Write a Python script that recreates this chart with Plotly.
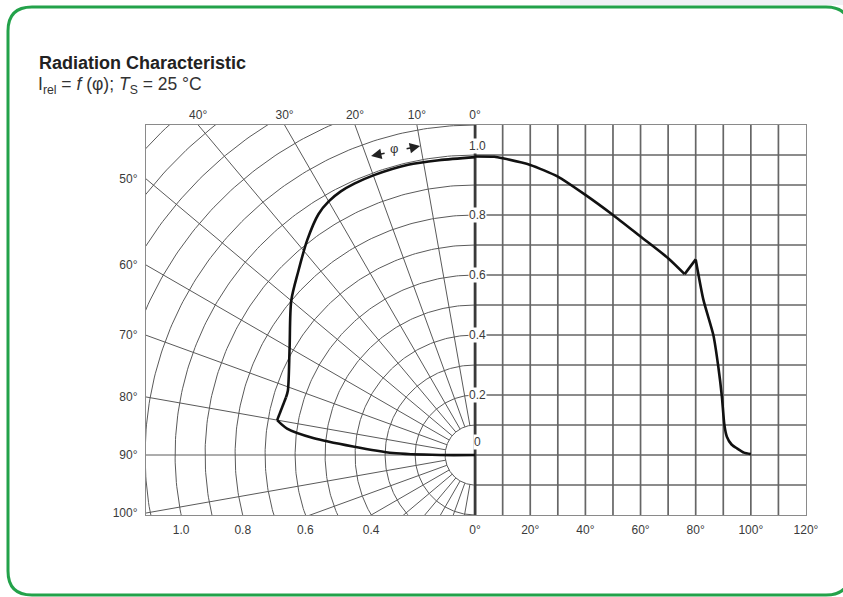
import numpy as np
import plotly.graph_objects as go

# ---------------- data ----------------
# left half: polar representation (angle phi in degrees, relative intensity)
polar_angle_deg = [0, 7, 13, 20, 24, 27, 30, 33, 38, 44, 50, 60, 71, 73, 80, 82, 84, 86, 88.6, 90, 90]
polar_rel = [0.993, 0.99, 0.993, 0.992, 0.99, 0.986, 0.976, 0.958, 0.909, 0.849, 0.80, 0.714,
             0.66, 0.659, 0.67, 0.633, 0.543, 0.408, 0.274, 0.117, 0.0]

# right half: cartesian representation (angle in degrees, relative intensity)
cart_angle_deg = [0, 7, 10, 20, 30, 40, 50, 60, 70, 76, 80, 82.8, 86.4, 88.2, 89.5,
                  90.4, 91.3, 93, 95, 97.5, 100]
cart_rel = [0.995, 0.994, 0.989, 0.967, 0.928, 0.867, 0.80, 0.728, 0.656, 0.603, 0.652,
            0.517, 0.40, 0.294, 0.194, 0.1, 0.061, 0.035, 0.022, 0.008, 0.003]

# tick labels
top_angles = [40, 30, 20, 10, 0]
left_angles = [50, 60, 70, 80, 90, 100]
bottom_radii = [1.0, 0.8, 0.6, 0.4]
bottom_angles = [0, 20, 40, 60, 80, 100, 120]
center_values = [1.0, 0.8, 0.6, 0.4, 0.2, 0.0]
center_labels = ["1.0", "0.8", "0.6", "0.4", "0.2", "0"]

# ---------------- geometry ----------------
X_LEFT, X_RIGHT = -1.097, 1.103
Y_BOT, Y_TOP = -0.2, 1.1
DEG = X_RIGHT / 120.0          # cartesian units per degree on the right half

FIG_W, FIG_H = 843, 597
ML, MR, MT, MB = 146, 37, 125, 82
PW, PH = FIG_W - ML - MR, FIG_H - MT - MB


def px2paper(px, py):
    return (px - ML) / PW, (FIG_H - MB - py) / PH


FONT = "Liberation Sans, Arial, sans-serif"
GRID_L = "#5a5a5a"
GRID_R = "#666666"
CURVE = "#111111"

fig = go.Figure()

# polar circles (left half)
cx, cy = [], []
ph = np.radians(np.linspace(0, 180, 241))
for r in np.arange(0.1, 1.65, 0.1):
    cx += list(-r * np.sin(ph)) + [None]
    cy += list(r * np.cos(ph)) + [None]
fig.add_trace(go.Scatter(x=cx, y=cy, mode="lines", line=dict(color=GRID_L, width=1),
                         hoverinfo="skip", showlegend=False))

# radial lines
rx, ry = [], []
for a in range(10, 180, 10):
    t = np.radians(a)
    rx += [-0.1 * np.sin(t), -2.0 * np.sin(t), None]
    ry += [0.1 * np.cos(t), 2.0 * np.cos(t), None]
fig.add_trace(go.Scatter(x=rx, y=ry, mode="lines", line=dict(color=GRID_L, width=1),
                         hoverinfo="skip", showlegend=False))

# cartesian grid (right half)
gx, gy = [], []
for a in range(10, 120, 10):
    gx += [a * DEG, a * DEG, None]
    gy += [Y_BOT, Y_TOP, None]
for v in np.arange(-0.1, 1.05, 0.1):
    gx += [0, X_RIGHT, None]
    gy += [v, v, None]
fig.add_trace(go.Scatter(x=gx, y=gy, mode="lines", line=dict(color=GRID_R, width=1.7),
                         hoverinfo="skip", showlegend=False))

# central axis
fig.add_trace(go.Scatter(x=[0, 0], y=[Y_BOT, Y_TOP], mode="lines",
                         line=dict(color="#3a3a3a", width=2.8),
                         hoverinfo="skip", showlegend=False))

# curves: smooth pieces joined at the sharp corners
pa = np.radians(polar_angle_deg)
pr = np.array(polar_rel)
px_ = -pr * np.sin(pa)
py_ = pr * np.cos(pa)
k73 = polar_angle_deg.index(73)
k80 = polar_angle_deg.index(80)
for i0, i1, shape in [(0, k73 + 1, "spline"), (k73, k80 + 1, "linear"), (k80, len(pa), "spline")]:
    fig.add_trace(go.Scatter(x=px_[i0:i1], y=py_[i0:i1], mode="lines",
                             line=dict(color=CURVE, width=2.6, shape=shape, smoothing=0.8),
                             hoverinfo="skip", showlegend=False))

ca = np.array(cart_angle_deg) * DEG
cr = np.array(cart_rel)
k76 = cart_angle_deg.index(76)
k80c = cart_angle_deg.index(80)
for i0, i1, shape in [(0, k76 + 1, "spline"), (k76, k80c + 1, "linear"), (k80c, len(ca), "spline")]:
    fig.add_trace(go.Scatter(x=ca[i0:i1], y=cr[i0:i1], mode="lines",
                             line=dict(color=CURVE, width=2.6, shape=shape, smoothing=0.6),
                             hoverinfo="skip", showlegend=False))

# top axis dummy trace
fig.add_trace(go.Scatter(x=[None], y=[None], xaxis="x2", showlegend=False))

# tick positions
bot_vals = [-np.sqrt(r * r - Y_BOT * Y_BOT) for r in bottom_radii] + [a * DEG for a in bottom_angles]
bot_text = [f"{r:.1f}" for r in bottom_radii] + [f"{a}°" for a in bottom_angles]
top_vals = [-Y_TOP * np.tan(np.radians(a)) for a in top_angles]
top_text = [f"{a}°" for a in top_angles]
left_vals = [-X_LEFT / np.tan(np.radians(a)) for a in left_angles]
left_text = [f"{a}°" for a in left_angles]

tickfont = dict(family=FONT, size=12, color="#3a3a3a")
fig.update_layout(
    width=FIG_W, height=FIG_H,
    margin=dict(l=ML, r=MR, t=MT, b=MB),
    paper_bgcolor="white", plot_bgcolor="white",
    xaxis=dict(range=[X_LEFT, X_RIGHT], showgrid=False, zeroline=False,
               showline=True, mirror=True, linecolor="#8a8a8a", linewidth=1.2,
               tickmode="array", tickvals=bot_vals, ticktext=bot_text,
               ticks="", tickfont=tickfont, ticklabelstandoff=3, fixedrange=True),
    xaxis2=dict(range=[X_LEFT, X_RIGHT], overlaying="x", side="top",
                showgrid=False, zeroline=False, showline=False,
                tickmode="array", tickvals=top_vals, ticktext=top_text,
                ticks="", tickfont=tickfont, ticklabelstandoff=3, fixedrange=True),
    yaxis=dict(range=[Y_BOT, Y_TOP], showgrid=False, zeroline=False,
               showline=True, mirror=True, linecolor="#8a8a8a", linewidth=1.2,
               tickmode="array", tickvals=left_vals, ticktext=left_text,
               ticks="", tickfont=tickfont, ticklabelstandoff=5, fixedrange=True),
    showlegend=False,
)

ann = []
# center axis labels
for v, t in zip(center_values, center_labels):
    ys = 0
    if v >= 1.0:
        ys = 9
    elif v == 0:
        ys = 13
    ann.append(dict(x=0.008, y=v, xref="x", yref="y", text=t, showarrow=False,
                    xanchor="center", yanchor="middle", yshift=ys,
                    bgcolor="white", borderpad=0, font=tickfont))

# phi marker
ann.append(dict(x=(394 - 475) / 300, y=(455 - 148) / 300, xref="x", yref="y",
                text="φ", showarrow=False, font=dict(family=FONT, size=13, color="#333")))
ann.append(dict(x=(371 - 475) / 300, y=(455 - 156) / 300, xref="x", yref="y", text="",
                showarrow=True, ax=15, ay=-3, arrowhead=2, arrowsize=1.3, arrowwidth=1.6,
                arrowcolor="#222"))
ann.append(dict(x=(420 - 475) / 300, y=(455 - 146) / 300, xref="x", yref="y", text="",
                showarrow=True, ax=-15, ay=3, arrowhead=2, arrowsize=1.3, arrowwidth=1.6,
                arrowcolor="#222"))

# titles
tx, ty = px2paper(37, 63)
ann.append(dict(x=tx, y=ty, xref="paper", yref="paper", xanchor="left", yanchor="middle",
                text="<b>Radiation Characteristic</b>", showarrow=False,
                font=dict(family=FONT, size=18, color="#222")))
tx, ty = px2paper(36, 86)
ann.append(dict(x=tx, y=ty, xref="paper", yref="paper", xanchor="left", yanchor="middle",
                text="I<sub>rel</sub> = <i>f</i> (φ); <i>T</i><sub>S</sub> = 25 °C", showarrow=False,
                font=dict(family=FONT, size=17.5, color="#333")))
fig.update_layout(annotations=ann)

# green rounded border
L, T, R, B, rad = 8, 7, 850, 595, 24
def P(px, py):
    x, y = px2paper(px, py)
    return f"{x:.5f},{y:.5f}"
path = (f"M {P(L + rad, T)} L {P(R - rad, T)} Q {P(R, T)} {P(R, T + rad)} "
        f"L {P(R, B - rad)} Q {P(R, B)} {P(R - rad, B)} "
        f"L {P(L + rad, B)} Q {P(L, B)} {P(L, B - rad)} "
        f"L {P(L, T + rad)} Q {P(L, T)} {P(L + rad, T)} Z")
x0, y0 = px2paper(560, 0)
x1, y1 = px2paper(FIG_W, 5)
fig.update_layout(shapes=[
    dict(type="rect", xref="paper", yref="paper", x0=x0, y0=y0, x1=x1, y1=y1,
         fillcolor="#f0f1f5", line=dict(width=0), layer="below"),
    dict(type="path", xref="paper", yref="paper", path=path,
         line=dict(color="#23a24a", width=3), layer="above"),
])

fig.write_html("out.html", config={"displayModeBar": False},
               post_script="document.body.style.margin='0';document.body.style.overflow='hidden';")
